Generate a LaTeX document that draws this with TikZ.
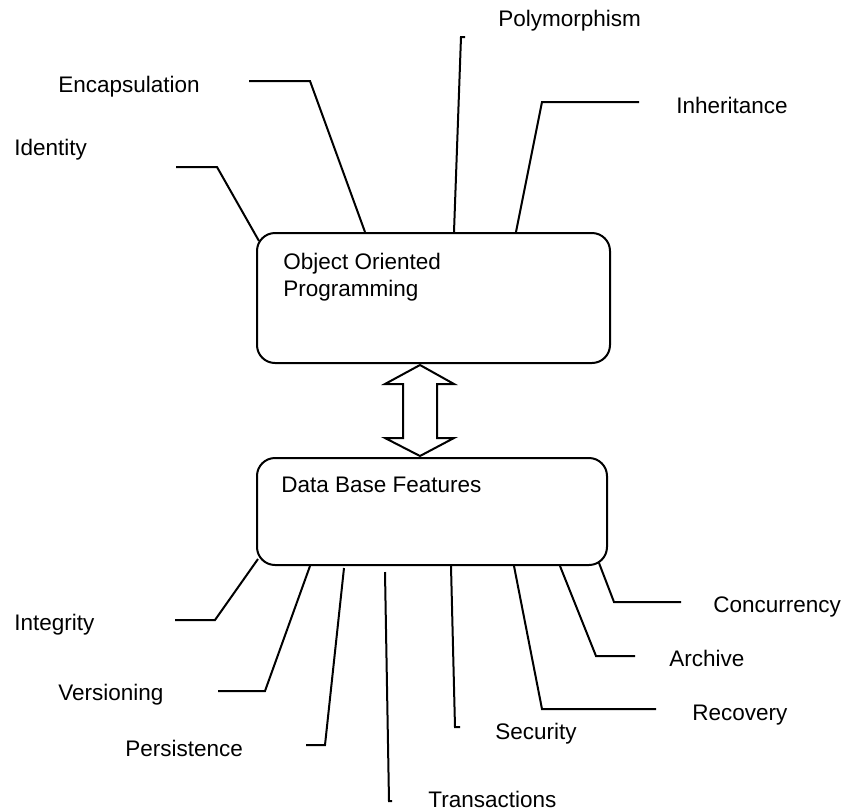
\documentclass[tikz,border=0pt]{standalone}
\usepackage{fontspec}
\setmainfont{Liberation Sans}
\usepackage{tikz}
\usetikzlibrary{positioning,calc}
\newcommand\featfont{\fontsize{11.25}{13.5}\selectfont}

\begin{document}
\begin{tikzpicture}[
    x=0.5pt, y=-0.5pt,
    block/.style={
        rectangle, draw=black, line width=1pt, fill=white,
        rounded corners=9pt, inner sep=0pt
    },
    boxtext/.style={font=\featfont, inner sep=0pt, align=left},
    feat/.style={font=\featfont, inner sep=0pt, anchor=base west},
    featlink/.style={draw=black, line width=1pt, line join=miter},
    twinarrow/.style={draw=black, line width=1pt, fill=white, line join=miter}
]
    \useasboundingbox (0,0) rectangle (843,811);

    % the two main boxes
    \node[block, minimum width=176.5pt, minimum height=65pt] (oop) at (433.5,298) {};
    \node[block, minimum width=175pt, minimum height=53.5pt, below=46.5pt of oop, xshift=-0.75pt] (db) {};
    \node[boxtext, anchor=north west] (ooptxt) at ($(oop.north west)+(27,20.5)$) {Object Oriented\\Programming};
    \node[feat] (dbtxt) at ($(db.north west)+(25,35)$) {Data Base Features};

    % feature labels
    \node[feat] (ident) at (14,155) {Identity};
    \node[feat] (encap) at (58,92) {Encapsulation};
    \node[feat] (poly) at (498,26) {Polymorphism};
    \node[feat] (inher) at (676,113) {Inheritance};
    \node[feat] (integ) at (14,630) {Integrity};
    \node[feat] (vers) at (58,700) {Versioning};
    \node[feat] (pers) at (125,756) {Persistence};
    \node[feat] (trans) at (428,807) {Transactions};
    \node[feat] (secu) at (495,739) {Security};
    \node[feat] (recov) at (692,720) {Recovery};
    \node[feat] (arch) at (669,666) {Archive};
    \node[feat] (conc) at (713,612) {Concurrency};

    % double arrow between the boxes
    \coordinate (tipup) at ($(oop.south)+(-13.5,1)$);
    \coordinate (tipdn) at ($(db.north)+(-12,-1)$);
    \draw[twinarrow] (tipup) -- ++(34,19) -- ++(-17,0) -- ($(tipdn)+(17,-18)$) -- ++(17,0)
        -- (tipdn) -- ++(-35,-18) -- ++(18,0) -- ($(tipup)+(-17,19)$) -- ++(-18,0) -- cycle;

    % object oriented features
    \draw[featlink] ($(oop.north west)+(3,9)$) -- ++(-42,-74) -- ++(-41,0) coordinate (identend);
    \draw[featlink] ($(oop.north west)+(109,0)$) -- ++(-55,-151) -- ++(-61,0) coordinate (encapend);
    \draw[featlink] ($(oop.north west)+(198,0)$) -- ++(7,-195) -- ++(4,0) coordinate (polyend);
    \draw[featlink] ($(oop.north west)+(260,0)$) -- ++(26,-130) -- ++(97,0) coordinate (inherend);

    % data base features
    \draw[featlink] ($(db.south west)+(2,-7)$) -- ++(-43,61) -- ++(-40,0) coordinate (integend);
    \draw[featlink] ($(db.south west)+(54,0)$) -- ++(-45,125) -- ++(-47,0) coordinate (versend);
    \draw[featlink] ($(db.south west)+(88,2)$) -- ++(-19,177) -- ++(-19,0) coordinate (persend);
    \draw[featlink] ($(db.south west)+(129,6)$) -- ++(4,229) -- ++(3,0) coordinate (transend);
    \draw[featlink] ($(db.south west)+(195,0)$) -- ++(4,161) -- ++(5,0) coordinate (secuend);
    \draw[featlink] ($(db.south west)+(258,0)$) -- ++(28,143) -- ++(114,0) coordinate (recovend);
    \draw[featlink] ($(db.south west)+(304,0)$) -- ++(36,90) -- ++(39,0) coordinate (archend);
    \draw[featlink] ($(db.south east)+(-9,-3)$) -- ++(15,39) -- ++(67,0) coordinate (concend);
\end{tikzpicture}
\end{document}
